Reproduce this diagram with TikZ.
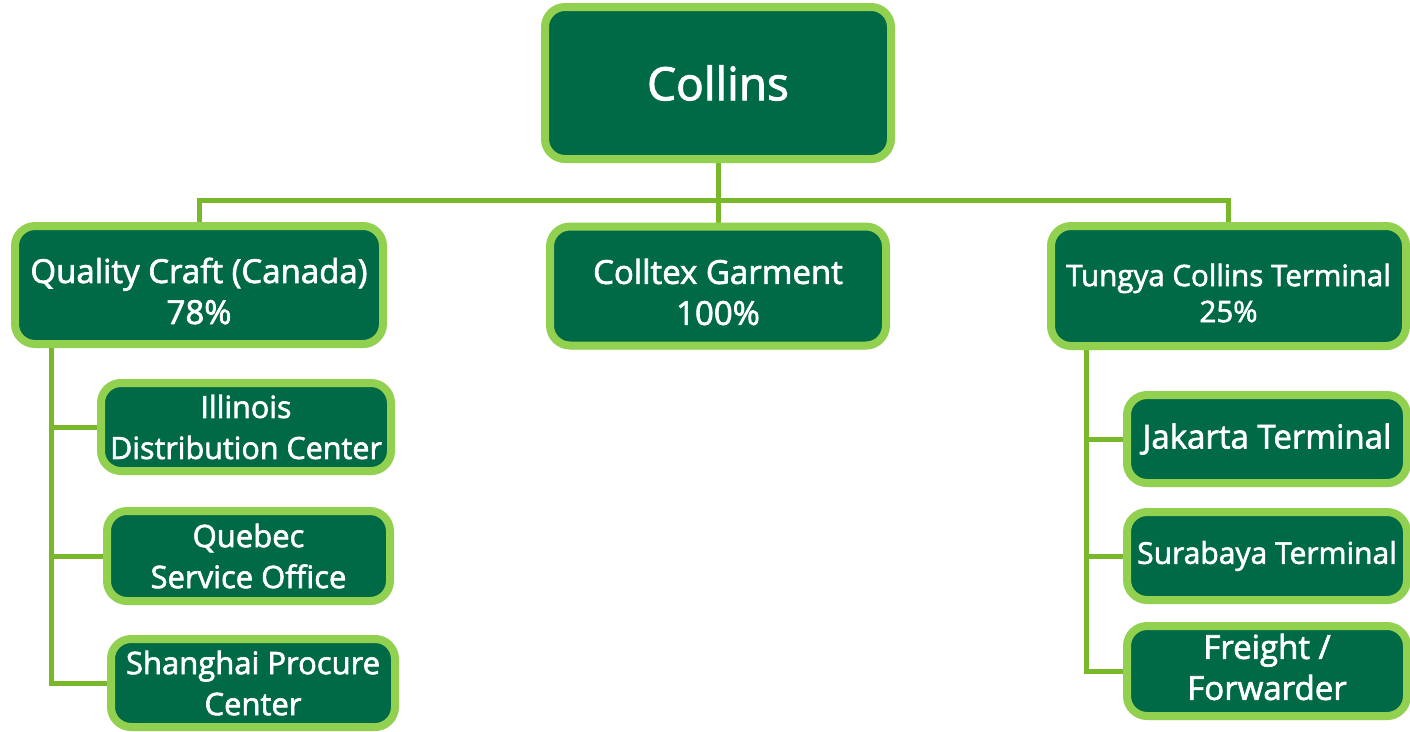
\documentclass[tikz,border=0pt]{standalone}
\usepackage{fontspec}
\setmainfont{Open Sans}[FakeBold=2]
\usetikzlibrary{shadows,backgrounds}
\definecolor{dkgreen}{HTML}{006946}
\definecolor{ltgreen}{HTML}{92D050}
\definecolor{lnk}{HTML}{78B82A}
\tikzset{
  box/.style={rounded corners=20pt, fill=dkgreen, draw=ltgreen, line width=8pt,
    text=white, align=center, inner sep=0pt,
    drop shadow={opacity=0.3, shadow xshift=1pt, shadow yshift=-4pt}},
  lbl/.style={text=white, align=center, inner sep=0pt},
  conn/.style={draw=lnk, line width=5pt},
  fs/.style={font=\fontsize{#1}{41}\selectfont},
}
\begin{document}
\begin{tikzpicture}[x=1pt,y=-1pt]
\useasboundingbox (0,0) rectangle (1410,731);
% top
\node[box,font=\fontsize{46}{52}\selectfont,minimum width=346pt,minimum height=152pt] (collins) at (718,83) {Collins};
\node[box,minimum width=368pt,minimum height=118pt] (qc) at (199,285) {};
\node[lbl,fs=33] (qct) at ([yshift=-6pt]qc.center) {Quality Craft (Canada)\\78\%};
\node[box,minimum width=336pt,minimum height=119pt] (cg) at (718,286) {};
\node[lbl,fs=33] (cgt) at ([yshift=-6pt]cg.center) {Colltex Garment\\100\%};
\node[box,minimum width=355pt,minimum height=120pt] (tc) at (1228.5,286) {};
\node[lbl,font=\fontsize{29.5}{36}\selectfont] (tct) at ([yshift=-7pt]tc.center) {Tungya Collins Terminal\\25\%};
% left children
\node[box,fs=30.5,minimum width=290pt,minimum height=88pt] (il) at (246,427) {Illinois\\Distribution Center};
\node[box,fs=31,minimum width=283pt,minimum height=90pt] (qb) at (248.5,556) {Quebec\\Service Office};
\node[box,fs=31,minimum width=284pt,minimum height=88pt] (sh) at (253,683) {Shanghai Procure\\Center};
% right children
\node[box,fs=33,minimum width=280pt,minimum height=88pt] (jk) at (1267,439) {Jakarta Terminal};
\node[box,fs=30,minimum width=280pt,minimum height=88pt] (sb) at (1267,556) {Surabaya Terminal};
\node[box,minimum width=280pt,minimum height=90pt] (fw) at (1267,671) {};
\node[lbl,fs=33] (fwt) at ([yshift=4pt]fw.center) {Freight /\\Forwarder};
\coordinate (bar) at (718,200);
\coordinate (lv) at (51,0);
\coordinate (rv) at (1086,0);
\begin{scope}[on background layer]
\draw[conn] (collins.south) -- (collins.south |- bar);
\draw[conn] (qc.north) |- (tc.north |- bar) -- (tc.north);
\draw[conn] (cg.north) -- (cg.north |- bar);
\draw[conn] (qc.south -| lv) |- (sh.west);
\draw[conn] (il.west) -- (il.west -| lv);
\draw[conn] (qb.west) -- (qb.west -| lv);
\draw[conn] (tc.south -| rv) |- (fw.west);
\draw[conn] (jk.west) -- (jk.west -| rv);
\draw[conn] (sb.west) -- (sb.west -| rv);
\end{scope}
\end{tikzpicture}
\end{document}
